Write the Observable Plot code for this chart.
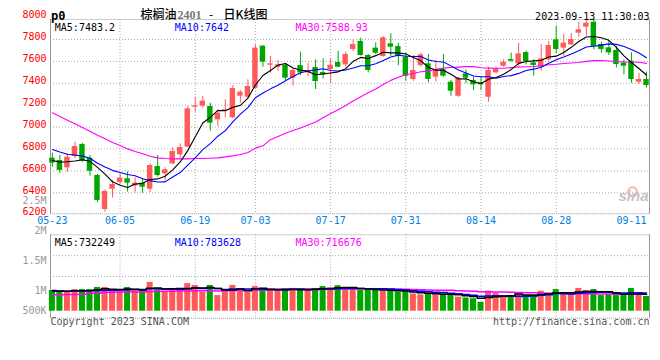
<!DOCTYPE html>
<html><head><meta charset="utf-8">
<script src="https://cdn.jsdelivr.net/npm/d3@7"></script>
<script src="https://cdn.jsdelivr.net/npm/@observablehq/plot@0.6"></script>
<style>
html,body{margin:0;padding:0;background:#fff;}
#chart{position:relative;width:660px;height:360px;overflow:hidden;background:#fff;}
#chart svg{position:absolute;left:0;top:0;}
</style></head><body><div id="chart"></div>
<script>
// ---- data ----
const dates = ["05-23","05-24","05-25","05-26","05-29","05-30","05-31","06-01","06-02","06-05","06-06","06-07","06-08","06-09","06-12","06-13","06-14","06-15","06-16","06-19","06-20","06-21","06-26","06-27","06-28","06-29","06-30","07-03","07-04","07-05","07-06","07-07","07-10","07-11","07-12","07-13","07-14","07-17","07-18","07-19","07-20","07-21","07-24","07-25","07-26","07-27","07-28","07-31","08-01","08-02","08-03","08-04","08-07","08-08","08-09","08-10","08-11","08-14","08-15","08-16","08-17","08-18","08-21","08-22","08-23","08-24","08-25","08-28","08-29","08-30","08-31","09-01","09-04","09-05","09-06","09-07","09-08","09-11","09-12","09-13"];
const open  = [6716,6695,6628,6731,6841,6716,6558,6247,6433,6494,6528,6463,6488,6433,6640,6573,6664,6747,6817,7182,7191,7188,7066,7148,7085,7282,7273,7355,7739,7565,7547,7565,7447,7562,7495,7544,7498,7526,7590,7568,7709,7782,7654,7721,7645,7760,7736,7638,7435,7562,7578,7456,7523,7410,7282,7486,7426,7404,7273,7496,7556,7617,7578,7681,7587,7547,7614,7797,7721,7751,7858,7912,7958,7754,7724,7700,7584,7602,7410,7435];
const high  = [6762,6741,6756,6862,6850,6741,6567,6427,6512,6573,6591,6537,6528,6664,6741,6628,6811,6847,7188,7273,7279,7218,7158,7249,7380,7334,7432,7751,7745,7645,7608,7578,7538,7684,7584,7614,7623,7623,7693,7684,7797,7812,7663,7769,7827,7852,7766,7675,7654,7675,7663,7608,7663,7426,7456,7523,7456,7456,7547,7547,7614,7675,7766,7693,7614,7751,7782,7919,7846,7855,7958,7974,7980,7776,7791,7736,7614,7678,7492,7502];
const low   = [6634,6579,6588,6710,6680,6552,6314,6223,6351,6476,6406,6397,6397,6403,6543,6506,6658,6710,6811,7136,7176,6963,7005,7085,7075,7218,7258,7349,7547,7492,7508,7425,7374,7471,7462,7343,7441,7401,7541,7547,7690,7648,7495,7663,7638,7645,7562,7419,7419,7547,7404,7410,7456,7282,7273,7395,7334,7334,7228,7486,7547,7593,7538,7568,7465,7511,7602,7669,7645,7745,7821,7827,7706,7675,7654,7541,7477,7401,7389,7358];
const close = [6671,6604,6725,6823,6689,6597,6330,6412,6476,6534,6488,6488,6451,6649,6558,6610,6777,6814,7167,7194,7237,7036,7127,7158,7352,7319,7371,7721,7593,7578,7568,7447,7517,7495,7517,7416,7477,7565,7547,7663,7754,7654,7517,7675,7815,7730,7654,7465,7517,7660,7435,7523,7465,7328,7447,7447,7386,7386,7517,7529,7593,7602,7669,7599,7563,7623,7745,7709,7766,7800,7889,7949,7736,7709,7678,7572,7556,7435,7435,7380];
const volume = [900000,860000,830000,940000,940000,930000,1030000,1030000,870000,880000,1030000,940000,880000,1250000,930000,840000,990000,900000,1200000,1120000,830000,1120000,680000,880000,1120000,960000,830000,1070000,990000,900000,900000,940000,990000,940000,900000,990000,1070000,1010000,1110000,970000,970000,900000,900000,990000,870000,870000,830000,860000,750000,710000,780000,710000,750000,710000,610000,570000,540000,390000,870000,780000,680000,640000,750000,680000,710000,870000,780000,940000,720000,720000,990000,900000,940000,680000,720000,680000,680000,990000,680000,640000];
// moving-average values before a full window exists
const ma5Early  = [6695,6680,6683,6690];
const ma10Early = [6795,6772,6752,6745,6735,6715,6670,6635,6605];
const ma30Early = [7130,7097,7063,7030,6996,6963,6926,6893,6859,6832,6801,6777,6756,6734,6719,6713,6710,6710,6710,6713,6713,6716,6719,6728,6737,6750,6768,6808,6829];
const vma5Early  = [900000,880000,870000,890000];
const vma10Early = [870000,870000,870000,880000,880000,890000,900000,910000,910000];
const vma30Early = [720000,720000,730000,730000,740000,780000,780000,820000,820000,830000,830000,840000,840000,860000,870000,870000,870000,880000,880000,890000,890000,890000,880000,890000,900000,900000,910000,910000,920000];
const priceTicks = [6200,6400,6600,6800,7000,7200,7400,7600,7800,8000];
const dateTickIdx = [0,9,19,27,37,47,57,67,77];
const volTicks = [2500000,2000000,1500000,1000000,500000];
const volTickLabels = ["2.5M","2M","1.5M","1M","500K"];
const priceLegend = ["MA5:7483.2","MA10:7642","MA30:7588.93"];
const volLegend = ["MA5:732249","MA10:783628","MA30:716676"];

// ---- derived ----
function movingAvg(vals, early, n) {
  return vals.map((v, i) => i < n - 1 ? early[i] : d3.mean(vals.slice(i - n + 1, i + 1)));
}
const ma5 = movingAvg(close, ma5Early, 5), ma10 = movingAvg(close, ma10Early, 10), ma30 = movingAvg(close, ma30Early, 30);
const vma5 = movingAvg(volume, vma5Early, 5), vma10 = movingAvg(volume, vma10Early, 10), vma30 = movingAvg(volume, vma30Early, 30);
const rows = dates.map((d, i) => ({i, date: d, open: open[i], high: high[i], low: low[i], close: close[i], vol: volume[i],
  up: close[i] >= open[i], ma5: ma5[i], ma10: ma10[i], ma30: ma30[i], vma5: vma5[i], vma10: vma10[i], vma30: vma30[i]}));

const RED = "#ff5a5a", GREEN = "#00a600";
const maColors = ["#000000", "#0000ff", "#ff00ff"];
const GRID = {stroke: "#aaa", strokeDasharray: "1,2"};
const MONO = {fontFamily: "DejaVu Sans Mono", fontSize: 10};
const xDomain = [-0.25, 79.4];
const gridIdx = dateTickIdx.filter(i => i > 0 && i < 75);
const common = {width: 660, height: 360, marginLeft: 50, marginRight: 11,
  x: {domain: xDomain, axis: null}, color: {type: "identity"},
  style: {background: "transparent", overflow: "visible"}};

// ---- price panel ----
const priceChart = Plot.plot({
  ...common, marginTop: 19, marginBottom: 360 - 213.3,
  y: {domain: [6200, 8000], range: [214.2, 17.1], axis: null},
  marks: [
    Plot.ruleY(priceTicks.filter(v => v > 6200 && v < 8000), GRID),
    Plot.ruleX(gridIdx, GRID),
    Plot.frame({stroke: "#999", strokeDasharray: "1,1"}),
    Plot.ruleX(xDomain, {stroke: "#999"}),
    Plot.dot([0], {frameAnchor: "bottom-right", dx: -17, dy: -22, r: 4.5, stroke: "#f4b4b4", strokeWidth: 2, fill: "none"}),
    Plot.text(["sina"], {text: d => d, frameAnchor: "bottom-right", dx: -1, dy: -13, textAnchor: "end", fill: "#c4c4c4", fontFamily: "Liberation Sans", fontWeight: "bold", fontStyle: "italic", fontSize: 15}),
    Plot.ruleX(rows, {x: "i", y1: "low", y2: "high", stroke: d => d.up ? RED : GREEN}),
    Plot.rect(rows, {x1: d => d.i - 0.36, x2: d => d.i + 0.36, y1: "open", y2: "close", fill: d => d.up ? RED : GREEN}),
    Plot.line(rows, {x: "i", y: "ma30", stroke: maColors[2], strokeWidth: 1.1}),
    Plot.line(rows, {x: "i", y: "ma10", stroke: maColors[1], strokeWidth: 1.1}),
    Plot.line(rows, {x: "i", y: "ma5", stroke: maColors[0], strokeWidth: 1.1}),
    Plot.text(priceTicks, {y: d => d, text: d => String(d), frameAnchor: "left", dx: -4, dy: -2.5, textAnchor: "end", fill: "#f00", ...MONO}),
    Plot.text(dateTickIdx, {x: d => d, text: d => dates[d], frameAnchor: "bottom", dy: 10, fill: "#0080e0", ...MONO}),
    ...priceLegend.map((t, k) => Plot.text([t], {text: d => d, frameAnchor: "top-left", dx: [4.3, 124.3, 245][k], dy: 4.5, textAnchor: "start", fill: maColors[k], ...MONO})),
    Plot.text(["p0"], {text: d => d, frameAnchor: "top-left", dx: 0.5, dy: -8.5, textAnchor: "start", fill: "#000", fontFamily: "DejaVu Sans Mono", fontWeight: "bold", fontSize: 12}),
    Plot.text(["棕榈油"], {text: d => d, frameAnchor: "top-left", dx: 90, dy: -8.7, textAnchor: "start", fill: "#000", fontFamily: "Noto Sans CJK SC", fontSize: 12, fontWeight: 500}),
    Plot.text(["2401"], {text: d => d, frameAnchor: "top-left", dx: 127, dy: -8.7, textAnchor: "start", fill: "#777", fontFamily: "Liberation Serif", fontSize: 12, fontWeight: "bold"}),
    Plot.text(["-"], {text: d => d, frameAnchor: "top-left", dx: 160.5, dy: -8.7, textAnchor: "middle", fill: "#000", fontFamily: "Noto Sans CJK SC", fontSize: 12}),
    Plot.text(["日K线图"], {text: d => d, frameAnchor: "top-left", dx: 173, dy: -8.7, textAnchor: "start", fill: "#000", fontFamily: "Noto Sans CJK SC", fontSize: 12, fontWeight: 500}),
    Plot.text(["2023-09-13 11:30:03"], {text: d => d, frameAnchor: "top-right", dx: 0, dy: -7, textAnchor: "end", fill: "#000", ...MONO})
  ]
});

// ---- volume panel (bars from zero) ----
const volLo = -304000, volHi = 3322000;
const volGrid = [1, 2, 3].map(k => volLo + k * (volHi - volLo) / 4);
const volChart = Plot.plot({
  ...common, marginTop: 234.3, marginBottom: 360 - 317.7,
  y: {domain: [volLo, volHi], axis: null},
  marks: [
    Plot.ruleY(volGrid, GRID),
    Plot.ruleX(gridIdx, GRID),
    Plot.frame({stroke: "#999", strokeDasharray: "1,1"}),
    Plot.ruleX(xDomain, {stroke: "#999"}),
    Plot.rect(rows, {x1: d => d.i - 0.4, x2: d => d.i + 0.4, y1: () => 0, y2: "vol", fill: d => d.up ? RED : GREEN}),
    Plot.line(rows, {x: "i", y: "vma30", stroke: maColors[2], strokeWidth: 1.5, curve: "step"}),
    Plot.line(rows, {x: "i", y: "vma10", stroke: maColors[1], strokeWidth: 1.5, curve: "step"}),
    Plot.line(rows, {x: "i", y: "vma5", stroke: maColors[0], strokeWidth: 1.5, curve: "step"}),
    ...volLegend.map((t, k) => Plot.text([t], {text: d => d, frameAnchor: "top-left", dx: [4.3, 124.3, 245][k], dy: 4.5, textAnchor: "start", fill: maColors[k], ...MONO})),
    Plot.text(["Copyright 2023 SINA.COM"], {text: d => d, frameAnchor: "bottom-left", dx: 0, dy: 6.5, textAnchor: "start", fill: "#555", ...MONO}),
    Plot.text(["http://finance.sina.com.cn"], {text: d => d, frameAnchor: "bottom-right", dx: 0, dy: 6.5, textAnchor: "end", fill: "#555", ...MONO})
  ]
});

// ---- volume axis labels: Sina's own label scale (1M per 60px), clamped at the bar base ----
const volAxis = Plot.plot({
  ...common, marginTop: 200, marginBottom: 50,
  y: {domain: [1000000 / 1.5, 2500000], range: [310.7, 200.7], clamp: true, axis: null},
  marks: [
    Plot.text(volTicks, {y: d => d, text: (d, i) => volTickLabels[i], frameAnchor: "left", dx: -4, textAnchor: "end", fill: "#999", ...MONO})
  ]
});

const host = document.getElementById("chart");
host.append(priceChart, volChart, volAxis);
</script>
</body></html>
